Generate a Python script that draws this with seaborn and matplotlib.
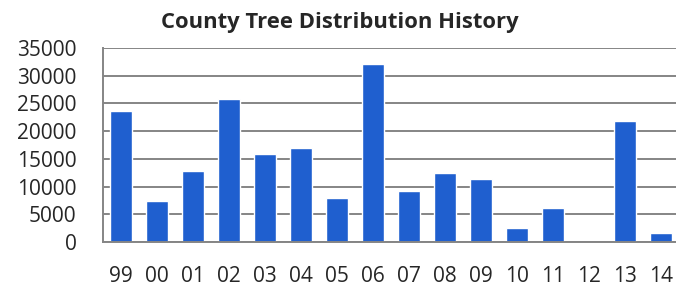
import matplotlib
matplotlib.use("Agg")
import matplotlib.pyplot as plt
import seaborn as sns
import pandas as pd
import numpy as np

sns.set_style("white")
plt.rcParams["font.family"] = ["Open Sans", "DejaVu Sans"]

# ---------- data -------------------------------------------------------
years = ["99", "00", "01", "02", "03", "04", "05", "06",
         "07", "08", "09", "10", "11", "12", "13", "14"]
trees = [23600, 7400, 12800, 25800, 15900, 16900, 7900, 32100,
         9200, 12400, 11400, 2600, 6200, 0, 21800, 1700]
y_ticks = [0, 5000, 10000, 15000, 20000, 25000, 30000, 35000]

df = pd.DataFrame({"year": years, "trees": trees})

fig = plt.figure(figsize=(6.76, 2.88), dpi=100)
ax = fig.add_axes([103 / 676, 46 / 288, 576 / 676, 194 / 288])

sns.barplot(data=df, x="year", y="trees", order=years, color="#1F5FCF",
            saturation=1, width=0.62, ax=ax)

ax.set_xlim(-0.5, len(years) - 0.5)
ax.set_ylim(0, 35000)
ax.set_yticks(y_ticks)
ax.set_yticklabels([str(t) for t in y_ticks])
ax.yaxis.grid(True, color="#858585", linewidth=1.4)
ax.set_axisbelow(True)

for side in ["top", "right"]:
    ax.spines[side].set_visible(False)
for side in ["left", "bottom"]:
    ax.spines[side].set_color("#858585")
    ax.spines[side].set_linewidth(1.4)

ax.set_xticks(np.arange(-0.5, len(years)), minor=True)
ax.tick_params(axis="x", which="major", length=0, pad=17, labelsize=15)
ax.tick_params(axis="x", which="minor", length=4, color="#858585", width=1.2)
ax.tick_params(axis="y", length=5, color="#858585", width=1.2, pad=14, labelsize=15)
ax.set_xlabel("")
ax.set_ylabel("")

fig.text(340 / 676, 1 - 28 / 288, "County Tree Distribution History",
         ha="center", va="baseline", fontsize=15.8, fontweight="bold")

plt.savefig("out.png", dpi=100)
plt.close()
